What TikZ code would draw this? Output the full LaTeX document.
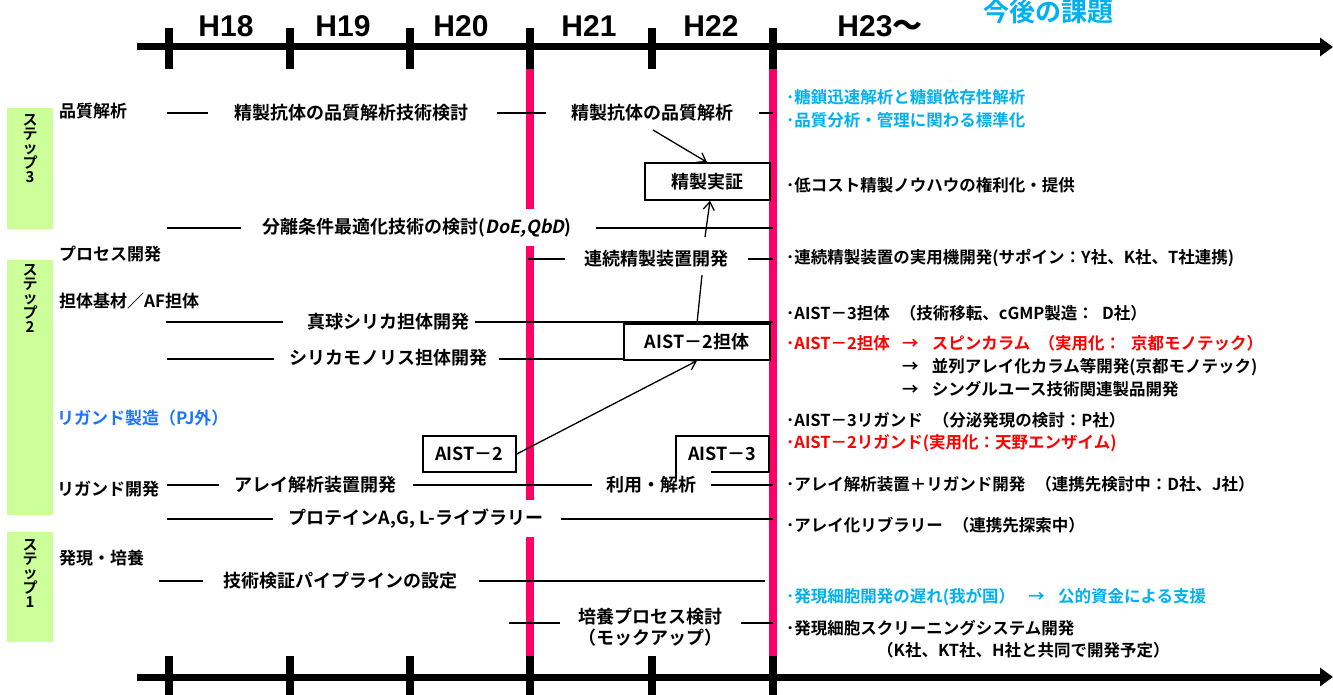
\documentclass[tikz,border=0pt]{standalone}
\usepackage{fontspec}
\setmainfont{Noto Sans CJK JP}[BoldFont={Noto Sans CJK JP Bold},BoldItalicFont={Noto Sans CJK JP Bold},BoldItalicFeatures={FakeSlant=0.2}]
\newfontfamily\hfont{Liberation Sans}
\usetikzlibrary{arrows.meta}
\definecolor{pinkline}{HTML}{FF0066}
\definecolor{stepgreen}{HTML}{CCFF99}
\definecolor{cyantext}{HTML}{00B0F0}
\definecolor{bluetext}{HTML}{1A75FF}
\definecolor{redtext}{HTML}{FF0000}
\begin{document}
\begin{tikzpicture}[x=1pt,y=-1pt,
  txt/.style={font=\fontsize{18}{21}\selectfont\bfseries, inner sep=1pt},
  lab/.style={font=\fontsize{17}{19}\selectfont\bfseries, anchor=west, inner sep=0pt},
  note/.style={font=\fontsize{16.5}{19}\selectfont\bfseries, anchor=west, inner sep=0pt},
  yr/.style={font=\fontsize{30}{32}\selectfont\hfont\bfseries, anchor=base},
  stepname/.style={font=\fontsize{15}{14}\selectfont\bfseries, align=center, anchor=north, inner sep=0pt},
  conn/.style={line width=1.3pt},
  boxed/.style={draw, line width=1.5pt, txt, inner sep=0pt},
  axis/.style={line width=7pt},
  tickmark/.style={line width=8pt},
  pinkbar/.style={pinkline, line width=8pt},
  barb/.style={-{Straight Barb[length=8pt,width=11pt,line width=1.3pt]}}
]
\useasboundingbox (0,0) rectangle (1333,695);

% step boxes
\fill[stepgreen] (7,108) rectangle (53,229);
\fill[stepgreen] (7,260) rectangle (53,515);
\fill[stepgreen] (7,532) rectangle (53,642);
\node[stepname] (s3) at (30,114) {ス\\テ\\ッ\\プ\\3};
\node[stepname] (s2) at (30,264) {ス\\テ\\ッ\\プ\\2};
\node[stepname] (s1) at (30,539) {ス\\テ\\ッ\\プ\\1};

% pink bars
\draw[pinkbar] (530,69) -- (530,209);
\draw[pinkbar] (530,246) -- (530,500);
\draw[pinkbar] (530,537) -- (530,656);
\draw[pinkbar] (773,69) -- (773,656);

% axes
\draw[axis,-{Triangle[length=13pt,width=18pt]}] (137,47) -- (1333,47);
\draw[axis,-{Triangle[length=13pt,width=18pt]}] (137,677) -- (1333,677);
\foreach \x in {169,290,410,530,652,773}{
  \draw[tickmark] (\x,28) -- (\x,69);
  \draw[tickmark] (\x,656) -- (\x,700);
}
\node[yr] (h18) at (226,37) {H18};
\node[yr] (h19) at (343,37) {H19};
\node[yr] (h20) at (461,37) {H20};
\node[yr] (h21) at (589,37) {H21};
\node[yr] (h22) at (711,37) {H22};
\node[yr] (h23) at (880,37) {H23{\fontspec{Noto Sans CJK JP Bold}～}};
\node[font=\fontsize{26}{28}\selectfont\bfseries, text=cyantext, inner sep=0pt] (kadai) at (1048,12) {今後の課題};

% left labels
\node[lab] (l1) at (59,111) {品質解析};
\node[lab] (l2) at (59,254) {プロセス開発};
\node[lab] (l3) at (59,301) {担体基材／AF担体};
\node[lab, text=bluetext] (l4) at (57,418) {リガンド製造（PJ外）};
\node[lab] (l5) at (57,489) {リガンド開発};
\node[lab] (l6) at (59,558) {発現・培養};

% row texts
\node[txt] (r1a) at (351,113) {精製抗体の品質解析技術検討};
\node[txt] (r1b) at (652,113) {精製抗体の品質解析};
\node[txt] (r2) at (417,228) {分離条件最適化技術の検討(\textit{DoE,QbD})};
\node[txt] (r3) at (656,259) {連続精製装置開発};
\node[txt] (r4) at (388,322) {真球シリカ担体開発};
\node[txt] (r5) at (388,358) {シリカモノリス担体開発};
\node[txt] (r6a) at (315,485) {アレイ解析装置開発};
\node[txt] (r6b) at (651,485) {利用・解析};
\node[txt] (r7) at (416,519) {プロテインA,G, L-ライブラリー};
\node[txt] (r8) at (340,581) {技術検証パイプラインの設定};
\node[txt, align=center] (r9) at (650,627) {培養プロセス検討\\（モックアップ）};

% row lines
\draw[conn] (167,113) -- (208,113);
\draw[conn] (497,113) -- (546,113);
\draw[conn] (759,113) -- (773,113);
\draw[conn] (167,228) -- (241,228);
\draw[conn] (596,228) -- (773,228);
\draw[conn] (528,259) -- (565,259);
\draw[conn] (748,259) -- (773,259);
\draw[conn] (166,322) -- (283,322);
\draw[conn] (475,322) -- (773,322);
\draw[conn] (167,359) -- (274,359);
\draw[conn] (167,485) -- (219,485);
\draw[conn] (413,485) -- (592,485);
\draw[conn] (711,485) -- (773,485);
\draw[conn] (167,519) -- (273,519);
\draw[conn] (561,519) -- (773,519);
\draw[conn] (159,581) -- (203,581);
\draw[conn] (479,581) -- (765,581);
\draw[conn] (509,623) -- (560,623);
\draw[conn] (741,623) -- (773,623);

% boxes
\node[boxed, fill=white, minimum width=125, minimum height=37] (seisei) at (707.5,181.5) {精製実証};
\node[boxed, fill=white, minimum width=146, minimum height=36] (a2tan) at (697,342) {AIST－2担体};
\draw[conn] (499,359) -- (a2tan.west |- 0,359);
\node[boxed, fill=white, minimum width=93, minimum height=36] (a2) at (469.5,454) {AIST－2};
\node[txt, minimum width=93, minimum height=36, inner sep=0pt] (a3) at (722.5,454) {AIST－3};
\draw[line width=1.5pt] ([yshift=-5]a3.south west) -- (a3.north west) -- (a3.north east) -- (a3.south east) -- ([xshift=35]a3.south west);

% arrows
\coordinate (c1) at (653,130);
\draw[conn, barb] (c1) -- ([xshift=-0.5]seisei.north);
\coordinate (c2) at (705,237);
\draw[conn, barb] (c2) -- ([xshift=2.5]seisei.south);
\coordinate (c3) at (702,275);
\draw[conn] (a2tan.north) -- (c3);
\draw[conn, barb] (a2.east) -- (a2tan.south);

% right notes
\node[note, text=cyantext] (n1) at (786,97) {･糖鎖迅速解析と糖鎖依存性解析};
\node[note, text=cyantext] (n2) at (786,120) {･品質分析・管理に関わる標準化};
\node[note] (n3) at (786,185) {･低コスト精製ノウハウの権利化・提供};
\node[note] (n4) at (786,258) {･連続精製装置の実用機開発(サポイン：Y社、K社、T社連携)};
\node[note] (n5) at (786,313) {･AIST－3担体\hspace{0.6em}（技術移転、cGMP製造：\hspace{0.5em}D社）};
\node[note, text=redtext] (n6) at (786,343) {･AIST－2担体};
\node[note, text=redtext] (n6a) at (902,343) {→\hspace{0.8em}スピンカラム\hspace{0.5em}（実用化：\hspace{0.6em}京都モノテック）};
\node[note] (n6b) at (902,367) {→\hspace{0.8em}並列アレイ化カラム等開発(京都モノテック)};
\node[note] (n6c) at (902,389) {→\hspace{0.8em}シングルユース技術関連製品開発};
\node[note] (n7) at (786,420) {･AIST－3リガンド\hspace{0.6em}（分泌発現の検討：P社）};
\node[note, text=redtext] (n8) at (786,443) {･AIST－2リガンド(実用化：天野エンザイム)};
\node[note] (n9) at (786,484) {･アレイ解析装置＋リガンド開発\hspace{0.6em}（連携先検討中：D社、J社）};
\node[note] (n10) at (786,525) {･アレイ化リブラリー\hspace{0.6em}（連携先探索中）};
\node[note, text=cyantext] (n11) at (786,597) {･発現細胞開発の遅れ(我が国）\hspace{0.8em}→\hspace{0.8em}公的資金による支援};
\node[note] (n12) at (786,628) {･発現細胞スクリーニングシステム開発};
\node[note] (n13) at (877,650) {（K社、KT社、H社と共同で開発予定）};
\end{tikzpicture}
\end{document}
